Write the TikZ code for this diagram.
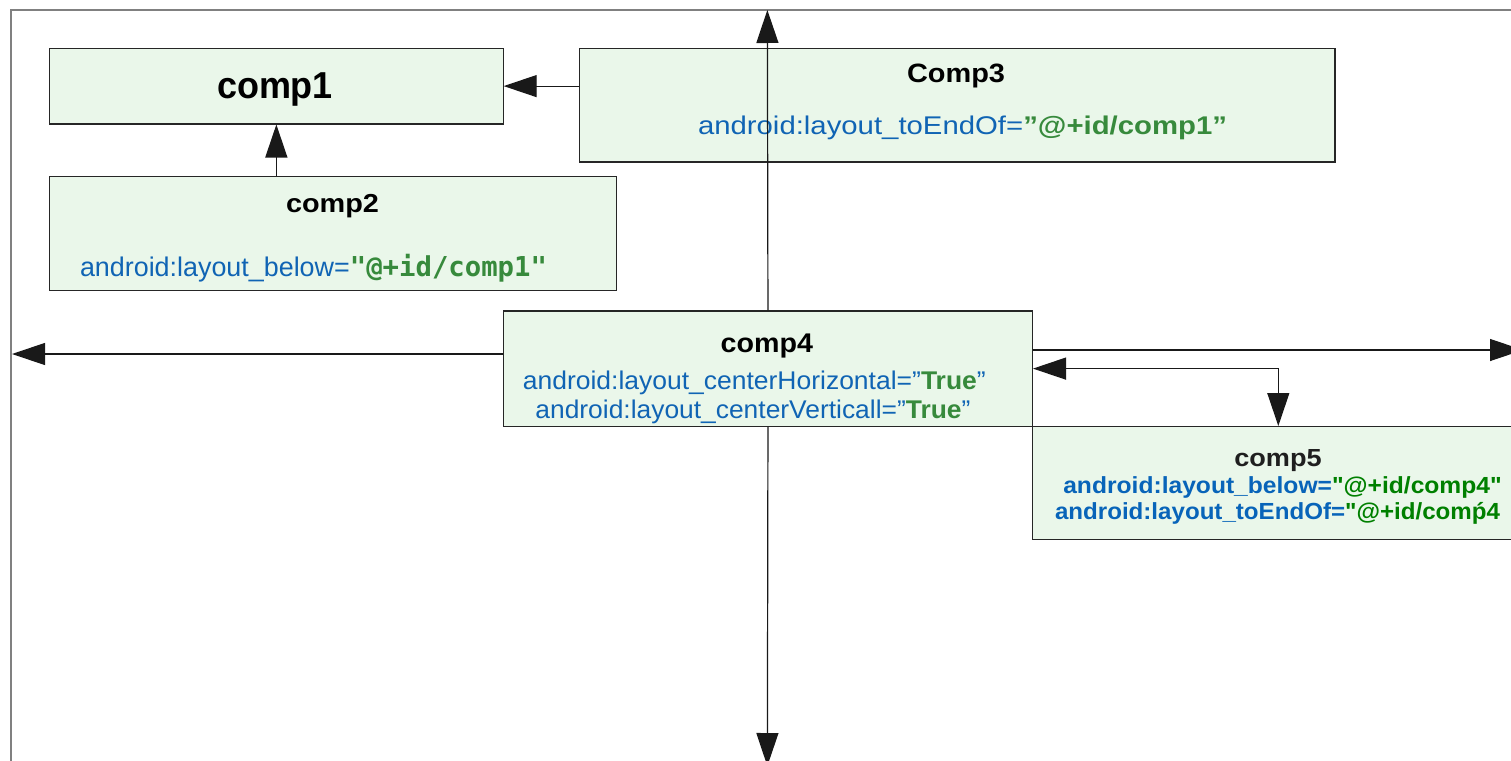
\documentclass[tikz,border=0pt]{standalone}
\usepackage{fontspec}
\usepackage{graphicx}
\setmainfont{Liberation Sans}
\newfontfamily\rawsans{Liberation Sans}
\newfontfamily\codefont{DejaVu Sans Mono}
\usetikzlibrary{arrows.meta}
\definecolor{boxfill}{RGB}{234,247,234}
\definecolor{attrblue}{RGB}{16,100,180}
\definecolor{valgreen}{RGB}{55,138,60}
\definecolor{blueb}{RGB}{8,100,185}
\definecolor{greenb}{RGB}{0,128,0}
\definecolor{framegray}{RGB}{128,128,128}
\newcommand{\fitt}[2]{\resizebox{#1pt}{\height}{#2}}
\newcommand{\fs}[1]{\fontsize{#1}{#1}\selectfont}
\begin{document}
\begin{tikzpicture}[x=1pt,y=-1pt,
  compbox/.style={draw=black!85, line width=1.2pt, fill=boxfill, inner sep=0pt, anchor=north west},
  conn/.style={draw=black!90, line width=1.2pt},
  tipend/.style={-{Triangle[length=33pt,width=22pt]}},
  tipboth/.style={{Triangle[length=33pt,width=22pt]}-{Triangle[length=33pt,width=22pt]}},
  lbl/.style={inner sep=0pt, outer sep=0pt, anchor=base west}
]
\path[use as bounding box] (0,0) rectangle (1511,760);
\clip (0,0) rectangle (1511,760);
\fill[white] (0,0) rectangle (1511,760);
% frame
\draw[framegray, line width=2pt] (11,770) -- (11,10) -- (1530,10);

% boxes
\node[compbox, minimum width=453.5pt, minimum height=75.6pt] (comp1) at (49,47.7) {};
\node[compbox, minimum width=567pt, minimum height=113.7pt] (comp2) at (49,176) {};
\node[compbox, minimum width=755.6pt, minimum height=113.6pt] (comp3) at (578.7,47.7) {};
\node[compbox, minimum width=528.9pt, minimum height=115.4pt] (comp4) at (502.9,310.3) {};
\node[compbox, minimum width=492pt, minimum height=113pt] (comp5) at (1031.7,426) {};

% texts
\node[lbl] (t1) at (217,99) {\fitt{116}{\fs{37.5}\bfseries comp1}};
\node[lbl] (t2) at (286,212.7) {\fitt{93}{\fs{26}\bfseries comp2}};
\node[lbl] (t2a) at (80,276.7) {\fitt{467}{\fs{27}\textcolor{attrblue}{android:layout\_below=}\textcolor{valgreen}{\codefont\fontsize{27.4}{27.4}\selectfont\bfseries "@+id/comp1"}}};
\node[lbl] (t3) at (907,82) {\fitt{98}{\fs{26.5}\bfseries Comp3}};
\node[lbl] (t3a) at (698,134.3) {\fitt{529}{\fs{25.6}\textcolor{attrblue}{android:layout\_toEndOf=}\textcolor{valgreen}{\bfseries ”@+id/comp1”}}};
\node[lbl] (t4) at (720.7,352.3) {\fitt{92.3}{\fs{27}\bfseries comp4}};
\node[lbl] (t4a) at (522.9,389) {\fitt{462.8}{\fs{25.6}\textcolor{attrblue}{android:layout\_centerHorizontal=”}\textcolor{valgreen}{\bfseries True}\textcolor{attrblue}{”}}};
\node[lbl] (t4b) at (535.4,418.3) {\fitt{435}{\fs{25.6}\textcolor{attrblue}{android:layout\_centerVerticall=”}\textcolor{valgreen}{\bfseries True}\textcolor{attrblue}{”}}};
\node[lbl] (t5) at (1234.3,466) {\fitt{87.4}{\fs{24.7}\bfseries\textcolor{black!88}{comp5}}};
\node[lbl] (t5a) at (1063.3,493.3) {\fitt{438.4}{\rawsans\fs{23.3}\bfseries\textcolor{blueb}{android:layout\_below=}\textcolor{greenb}{"@+id/comp4"}}};
\node[lbl] (t5b) at (1055,519) {\fitt{445}{\rawsans\fs{23.3}\bfseries\textcolor{blueb}{android:layout\_toEndOf=}\textcolor{greenb}{"@+id/com\'{p}4}}};

% free ends
\coordinate (topend) at (767.35,10);
\coordinate (bottomend) at (767.35,766);
\coordinate (leftend) at (12,354);
\coordinate (rightend) at (1523,350);

% connectors
\draw[conn,tipend] (comp3.west |- comp1.east) -- (comp1.east);
\draw[conn,tipend] (comp1.south |- comp2.north) -- (comp1.south);
\draw[conn,tipend] (comp4.north) -- (topend);
\draw[conn,tipend] (comp4.south) -- (bottomend);
\draw[conn,tipend] (comp4.west |- leftend) -- (leftend);
\draw[conn,tipend] (comp4.east |- rightend) -- (rightend);
\draw[conn,tipboth] (comp4.east) -- (comp5.north |- comp4.east) -- (comp5.north);
\end{tikzpicture}
\end{document}
